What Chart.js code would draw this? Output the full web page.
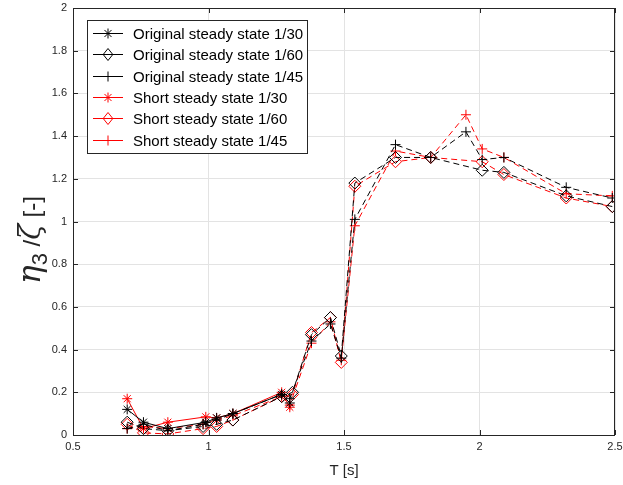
<!DOCTYPE html>
<html>
<head>
<meta charset="utf-8">
<script src="https://cdn.jsdelivr.net/npm/chart.js@4/dist/chart.umd.min.js"></script>
<style>
  html, body { margin: 0; padding: 0; background: #fff; }
  #wrap { width: 623px; height: 485px; }
</style>
</head>
<body>
<div id="wrap"><canvas id="chartEta"></canvas></div>
<script>
// tick labels
var xTicks = [0.5, 1, 1.5, 2, 2.5];
var yTicks = [0, 0.2, 0.4, 0.6, 0.8, 1, 1.2, 1.4, 1.6, 1.8, 2];

// periods T [s] for each steepness
var tSteep30 = [0.70, 0.76, 0.85, 0.99, 1.03, 1.09, 1.27, 1.30];
var tSteep60 = [0.70, 0.76, 0.85, 0.98, 1.03, 1.09, 1.27, 1.31, 1.38, 1.45, 1.49, 1.54, 1.69, 1.82, 2.01, 2.09, 2.32, 2.49];
var tSteep45 = [0.70, 0.76, 0.85, 0.98, 1.03, 1.09, 1.27, 1.30, 1.38, 1.45, 1.49, 1.54, 1.69, 1.82, 1.95, 2.01, 2.09, 2.32, 2.49];

// eta3 / zeta
var origSteady30  = [0.12, 0.06, 0.03, 0.06, 0.08, 0.10, 0.19, 0.15];
var shortSteady30 = [0.17, 0.03, 0.06, 0.085, 0.08, 0.10, 0.20, 0.13];
var origSteady60  = [0.06, 0.03, 0.02, 0.04, 0.05, 0.07, 0.18, 0.20, 0.47, 0.55, 0.37, 1.18, 1.30, 1.30, 1.24, 1.23, 1.12, 1.07];
var shortSteady60 = [0.05, 0.01, 0.005, 0.03, 0.04, 0.07, 0.18, 0.19, 0.48, 0.55, 0.34, 1.165, 1.28, 1.30, 1.28, 1.22, 1.11, 1.07];
var origSteady45  = [0.03, 0.05, 0.02, 0.05, 0.07, 0.10, 0.19, 0.17, 0.44, 0.52, 0.36, 1.01, 1.36, 1.30, 1.42, 1.29, 1.30, 1.16, 1.11];
var shortSteady45 = [0.03, 0.04, 0.03, 0.05, 0.07, 0.09, 0.18, 0.14, 0.43, 0.53, 0.35, 0.98, 1.33, 1.30, 1.50, 1.34, 1.30, 1.13, 1.12];

var seriesNames = ['Original steady state 1/30', 'Original steady state 1/60', 'Original steady state 1/45',
                   'Short steady state 1/30', 'Short steady state 1/60', 'Short steady state 1/45'];

function toXY(xs, ys) {
    return xs.map(function(x, i) { return {x: x, y: ys[i]}; });
}

function makeSet(label, xs, ys, color, marker, dash) {
    return {
        label: label,
        data: toXY(xs, ys),
        borderColor: color,
        backgroundColor: 'rgba(0,0,0,0)',
        borderWidth: 1,
        borderDash: dash,
        pointStyle: marker,
        pointRadius: marker === 'rectRot' ? 6 : 5,
        pointBorderWidth: 1,
        pointBorderColor: color,
        pointBackgroundColor: 'rgba(0,0,0,0)',
        tension: 0,
        fill: false
    };
}

var datasets = [
    makeSet(seriesNames[0], tSteep30, origSteady30, '#000000', 'star', []),
    makeSet(seriesNames[1], tSteep60, origSteady60, '#000000', 'rectRot', [6, 4]),
    makeSet(seriesNames[2], tSteep45, origSteady45, '#000000', 'cross', [6, 4]),
    makeSet(seriesNames[3], tSteep30, shortSteady30, '#ff0000', 'star', []),
    makeSet(seriesNames[4], tSteep60, shortSteady60, '#ff0000', 'rectRot', [6, 4]),
    makeSet(seriesNames[5], tSteep45, shortSteady45, '#ff0000', 'cross', [6, 4])
];

function drawMarker(ctx, style, x, y, r) {
    ctx.beginPath();
    if (style === 'star') {
        ctx.moveTo(x - r, y); ctx.lineTo(x + r, y);
        ctx.moveTo(x, y - r); ctx.lineTo(x, y + r);
        var d = r * 0.707;
        ctx.moveTo(x - d, y - d); ctx.lineTo(x + d, y + d);
        ctx.moveTo(x - d, y + d); ctx.lineTo(x + d, y - d);
    } else if (style === 'rectRot') {
        ctx.moveTo(x, y - r); ctx.lineTo(x + r * 0.8, y);
        ctx.lineTo(x, y + r); ctx.lineTo(x - r * 0.8, y);
        ctx.closePath();
    } else {
        ctx.moveTo(x - r, y); ctx.lineTo(x + r, y);
        ctx.moveTo(x, y - r); ctx.lineTo(x, y + r);
    }
    ctx.stroke();
}

// axes box, inward ticks, titles and legend box
var matlabLook = {
    id: 'matlabLook',
    afterDraw: function(chart) {
        var ctx = chart.ctx, a = chart.chartArea;
        var xs = chart.scales.x, ys = chart.scales.y;
        ctx.save();
        ctx.strokeStyle = '#262626';
        ctx.lineWidth = 1;
        ctx.strokeRect(a.left + 0.5, a.top + 0.5, a.right - a.left - 1, a.bottom - a.top);
        ctx.beginPath();
        xTicks.forEach(function(v) {
            var px = Math.round(xs.getPixelForValue(v)) + 0.5;
            ctx.moveTo(px, a.bottom); ctx.lineTo(px, a.bottom - 5);
            ctx.moveTo(px, a.top); ctx.lineTo(px, a.top + 5);
        });
        yTicks.forEach(function(v) {
            var py = Math.round(ys.getPixelForValue(v)) + 0.5;
            ctx.moveTo(a.left, py); ctx.lineTo(a.left + 5, py);
            ctx.moveTo(a.right, py); ctx.lineTo(a.right - 5, py);
        });
        ctx.stroke();

        // x title
        ctx.fillStyle = '#262626';
        ctx.font = '15px "Liberation Sans", Arial, sans-serif';
        ctx.textAlign = 'center';
        ctx.textBaseline = 'alphabetic';
        ctx.fillText('T [s]', (a.left + a.right) / 2, 475);

        // y title: eta_3 / zeta [-]
        var parts = [
            {t: '\u03b7', f: 'italic 31px "DejaVu Serif", serif', dy: 0},
            {t: '3', f: '22px "Liberation Sans", Arial, sans-serif', dy: 7},
            {t: ' /', f: '24px "Liberation Sans", Arial, sans-serif', dy: 0},
            {t: '\u03b6', f: 'italic 29px "DejaVu Serif", serif', dy: 0},
            {t: ' [-]', f: '24px "Liberation Sans", Arial, sans-serif', dy: 0}
        ];
        var total = 0;
        parts.forEach(function(p) { ctx.font = p.f; p.w = ctx.measureText(p.t).width; total += p.w; });
        ctx.translate(40, 240);
        ctx.rotate(-Math.PI / 2);
        ctx.textAlign = 'left';
        var cx = -total / 2;
        parts.forEach(function(p) { ctx.font = p.f; ctx.fillText(p.t, cx, p.dy); cx += p.w; });
        ctx.restore();

        // legend
        ctx.save();
        var lx = 87, ly = 20, lw = 220, lh = 133;
        ctx.fillStyle = '#ffffff';
        ctx.fillRect(lx, ly, lw, lh);
        ctx.strokeStyle = '#262626';
        ctx.lineWidth = 1;
        ctx.strokeRect(lx + 0.5, ly + 0.5, lw, lh);
        ctx.font = '15px "Liberation Sans", Arial, sans-serif';
        ctx.textBaseline = 'middle';
        ctx.textAlign = 'left';
        chart.data.datasets.forEach(function(ds, i) {
            var yy = Math.round(ly + 13 + i * 21.3) + 0.5;
            ctx.strokeStyle = ds.borderColor;
            ctx.setLineDash([]);
            ctx.beginPath();
            ctx.moveTo(lx + 6, yy); ctx.lineTo(lx + 36, yy);
            ctx.stroke();
            drawMarker(ctx, ds.pointStyle, lx + 21, yy, ds.pointStyle === 'rectRot' ? 6 : 5);
            ctx.fillStyle = '#000000';
            ctx.fillText(ds.label, lx + 46, yy + 1);
        });
        ctx.restore();
    }
};

var ctx = document.getElementById('chartEta');
var myChartEta = new Chart(ctx, {
    type: 'line',
    data: { datasets: datasets },
    plugins: [matlabLook],
    options: {
        responsive: true,
        maintainAspectRatio: false,
        animation: false,
        layout: { padding: { left: 0, right: 8, top: 8, bottom: 0 } },
        plugins: {
            legend: { display: false },
            tooltip: { enabled: false }
        },
        scales: {
            x: {
                type: 'linear',
                min: 0.5,
                max: 2.5,
                afterFit: function(s) { s.height = 50; s.paddingLeft = 0; s.paddingRight = 0; },
                afterBuildTicks: function(s) { s.ticks = xTicks.map(function(v) { return {value: v}; }); },
                ticks: {
                    color: '#262626',
                    font: { family: '"Liberation Sans", Arial, sans-serif', size: 11 },
                    padding: 5,
                    maxRotation: 0,
                    callback: function(v) { return String(v); }
                },
                grid: { color: '#e3e3e3', drawTicks: false },
                border: { display: false }
            },
            y: {
                type: 'linear',
                min: 0,
                max: 2,
                afterFit: function(s) { s.width = 73; s.paddingTop = 0; s.paddingBottom = 0; },
                afterBuildTicks: function(s) { s.ticks = yTicks.map(function(v) { return {value: v}; }); },
                ticks: {
                    color: '#262626',
                    font: { family: '"Liberation Sans", Arial, sans-serif', size: 11 },
                    padding: 6,
                    callback: function(v) { return String(v); }
                },
                grid: { color: '#e3e3e3', drawTicks: false },
                border: { display: false }
            }
        }
    }
});
</script>
</body>
</html>
